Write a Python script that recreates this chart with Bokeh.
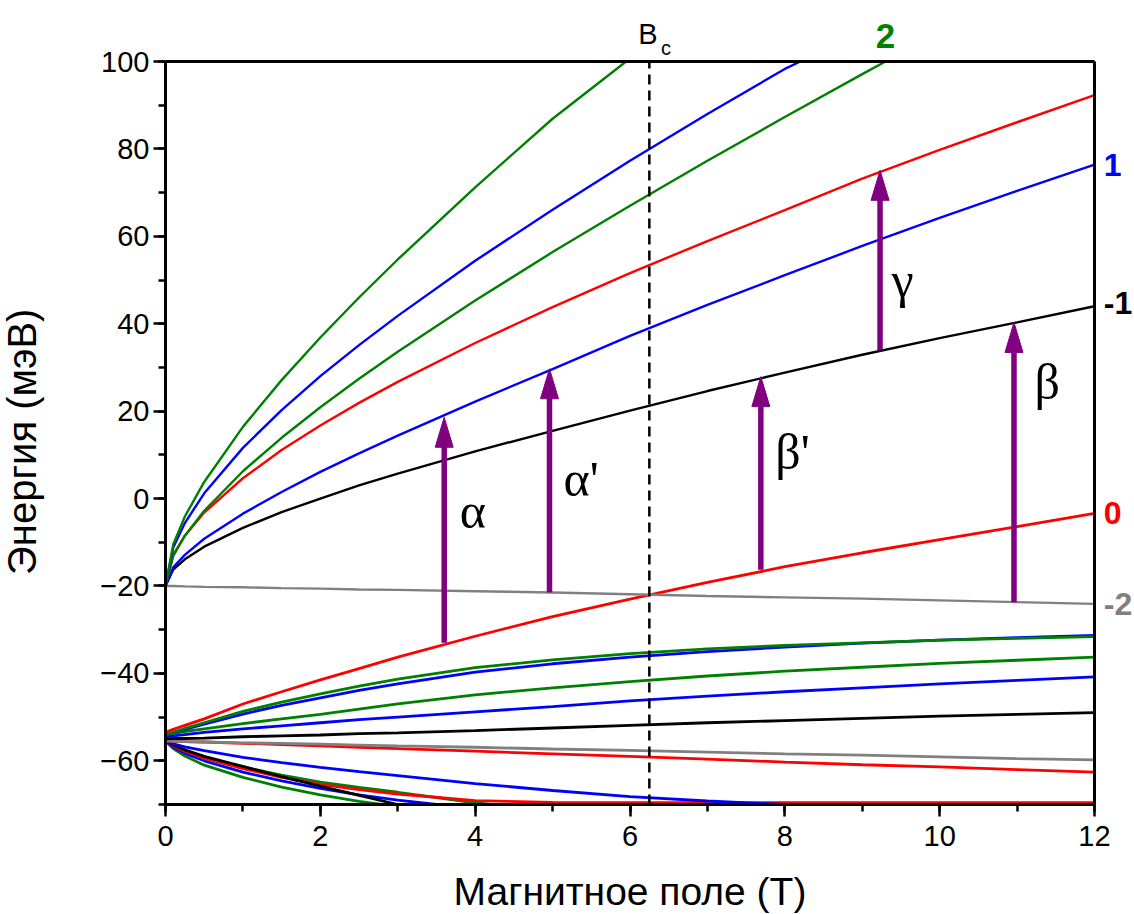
import numpy as np
from bokeh.plotting import figure
from bokeh.models import Range1d, SingleIntervalTicker, Label
from bokeh.embed import file_html
from bokeh.resources import INLINE

# Magnetic field grid (T)
B = [0, 0.1, 0.25, 0.5, 1, 1.5, 2, 2.5, 3, 4, 5, 6, 7, 8, 9, 10, 11, 12]
# fields of the curves that leave the box (last point: where they cross 100 or -70 meV)
B_up_green2 = [0, 0.1, 0.25, 0.5, 1, 1.5, 2, 2.5, 3, 4, 5, 6, 7, 8, 9, 9.3]
B_up_blue2 = [0, 0.1, 0.25, 0.5, 1, 1.5, 2, 2.5, 3, 4, 5, 6, 7, 8, 8.2]
B_up_green3 = [0, 0.1, 0.25, 0.5, 1, 1.5, 2, 2.5, 3, 4, 5, 5.95]
B_lo_green3 = [0, 0.1, 0.25, 0.5, 1, 1.5, 2, 2.5, 3, 4, 4.2]
B_lo_blue4 = [0, 0.1, 0.25, 0.5, 1, 1.5, 2, 2.5, 3, 3.5]
B_lo_green4 = [0, 0.1, 0.25, 0.5, 1, 1.5, 2, 2.5, 2.8]

# Levels fanning out of the -20 meV point
up_gray = [-20, -20.0, -20.1, -20.2, -20.3, -20.5, -20.6, -20.8, -20.9, -21.2, -21.5, -21.9, -22.3, -22.6, -22.9, -23.3, -23.7, -24.1]
up_black = [-20, -16.25, -13.9, -11.0, -6.7, -3.1, 0.0, 3.0, 5.7, 10.8, 15.5, 20.1, 24.6, 28.8, 32.9, 36.7, 40.3, 44.0]
up_blue = [-20, -15.75, -12.9, -9.2, -3.45, 1.5, 6.1, 10.35, 14.4, 22.2, 29.6, 37.2, 44.3, 51.1, 57.8, 64.2, 70.4, 76.4]
up_red = [-20, -12.9, -8.5, -3.2, 4.65, 11.1, 16.7, 21.9, 26.7, 35.6, 43.8, 51.6, 58.9, 66.0, 73.2, 79.8, 86.1, 92.3]
up_green2 = [-20, -13.1, -8.5, -2.8, 6.25, 13.9, 20.9, 27.4, 33.6, 45.3, 56.4, 67.0, 77.3, 87.3, 97.1, 100.0]
up_blue2 = [-20, -11.2, -5.6, 1.2, 11.6, 20.25, 28.0, 35.1, 41.8, 54.4, 66.1, 77.3, 88.0, 98.3, 100.0]
up_green3 = [-20, -10.5, -4.1, 3.8, 16.4, 27.1, 36.85, 46.0, 54.7, 71.2, 86.9, 100.0]

# Levels fanning out of the -54 meV point
lo_red0 = [-53.5, -52.8, -51.9, -50.4, -47.0, -44.2, -41.5, -38.9, -36.3, -31.5, -27.0, -23.0, -19.2, -15.6, -12.4, -9.4, -6.4, -3.4]
lo_green1 = [-54, -53.5, -52.6, -51.3, -48.7, -46.6, -44.7, -42.9, -41.3, -38.7, -36.9, -35.5, -34.4, -33.6, -33.0, -32.4, -32.0, -31.6]
lo_blue1 = [-54, -53.6, -52.8, -51.6, -49.3, -47.3, -45.6, -43.9, -42.4, -39.7, -37.8, -36.3, -35.0, -34.0, -33.1, -32.4, -31.8, -31.3]
lo_green2 = [-54, -53.7, -53.3, -52.7, -51.5, -50.4, -49.4, -48.2, -47.0, -44.9, -43.3, -41.9, -40.6, -39.5, -38.6, -37.7, -37.0, -36.3]
lo_blue2 = [-54.5, -54.3, -54.0, -53.5, -52.7, -52.0, -51.3, -50.6, -50.0, -48.8, -47.6, -46.3, -45.2, -44.2, -43.3, -42.4, -41.6, -40.8]
lo_black = [-55, -54.9, -54.9, -54.8, -54.5, -54.3, -54.1, -53.8, -53.6, -53.1, -52.5, -51.9, -51.3, -50.8, -50.3, -49.8, -49.4, -49.0]
lo_gray = [-55.5, -55.5, -55.6, -55.7, -55.9, -56.0, -56.2, -56.4, -56.6, -56.9, -57.3, -57.6, -58.0, -58.4, -58.7, -59.1, -59.5, -59.8]
lo_red1 = [-55.5, -55.5, -55.6, -55.7, -56.0, -56.3, -56.6, -56.9, -57.2, -57.8, -58.4, -59.0, -59.6, -60.3, -60.9, -61.4, -62.0, -62.6]
lo_blue3 = [-55.5, -56.1, -56.8, -57.7, -59.2, -60.4, -61.5, -62.5, -63.4, -65.2, -66.8, -68.2, -69.2, -70.0]
lo_black2 = [-55.5, -56.4, -57.5, -59.0, -61.3, -63.6, -65.8, -67.9, -70.0]
lo_red2 = [-55.5, -56.6, -57.8, -59.4, -61.8, -63.8, -65.4, -66.6, -67.6, -69.1, -69.5, -69.6, -69.6, -69.6, -69.6, -69.6, -69.6, -69.6]
lo_green3 = [-55.5, -56.5, -57.6, -59.2, -61.4, -63.3, -64.9, -66.1, -67.2, -69.6, -70.0]
lo_blue4 = [-55.5, -56.9, -58.3, -60.0, -62.6, -64.6, -66.3, -67.8, -69.0, -70.0]
lo_green4 = [-55.5, -57.2, -58.9, -61.0, -63.8, -66.0, -67.8, -69.3, -70.0]

# Optical transitions: field, start energy, end energy
arrow_names = ["α", "α'", "β'", "γ", "β"]
arrow_B = [3.6, 4.96, 7.69, 9.23, 10.96]
arrow_from = [-33.0, -21.5, -16.3, 34.0, -23.7]
arrow_to = [18.6, 29.7, 27.9, 75.1, 40.3]

# Critical field
B_c = 6.25

GREEN = "#008000"
BLUE = "#0000ff"
RED = "#ff0000"
GRAY = "#808080"
BLACK = "#000000"
PURPLE = "#800080"

W, H = 1134, 914
LEFT, RIGHT, TOP, BOTTOM = 165, 40, 61, 110
X0, X1, Y0, Y1 = 0, 12, -70, 100

# The frame fills the whole canvas; the axes are pinned to the data box
# edges, so every title and index can be placed in data units.
px_x = (W - LEFT - RIGHT) / (X1 - X0)
px_y = (H - TOP - BOTTOM) / (Y1 - Y0)
xr = Range1d(X0 - LEFT / px_x, X1 + RIGHT / px_x)
yr = Range1d(Y0 - BOTTOM / px_y, Y1 + TOP / px_y)

p = figure(width=W, height=H, x_range=xr, y_range=yr,
           output_backend="svg", toolbar_location=None, title=None,
           min_border=0, min_border_left=0, min_border_right=0,
           min_border_top=0, min_border_bottom=0)
p.background_fill_color = "white"
p.border_fill_color = "white"
p.grid.visible = False
p.outline_line_color = None

p.xaxis.ticker = SingleIntervalTicker(interval=2, num_minor_ticks=2)
p.yaxis.ticker = SingleIntervalTicker(interval=20, num_minor_ticks=2)
p.xaxis.bounds = (X0, X1)
p.yaxis.bounds = (Y0, Y1)
p.xaxis.fixed_location = Y0
p.yaxis.fixed_location = X0
for ax in (p.xaxis, p.yaxis):
    ax.axis_line_width = 3
    ax.major_tick_line_width = 2.5
    ax.minor_tick_line_width = 2.5
    ax.major_tick_in = 0
    ax.major_tick_out = 12
    ax.minor_tick_in = 0
    ax.minor_tick_out = 7
    ax.major_label_text_font = "Liberation Sans"
    ax.major_label_text_font_size = "29px"
    ax.major_label_text_color = "black"
p.xaxis.major_label_standoff = 9
p.yaxis.major_label_standoff = 4

lower = [
    (B_lo_green4, lo_green4, GREEN), (B_lo_blue4, lo_blue4, BLUE),
    (B_lo_green3, lo_green3, GREEN), (B, lo_red2, RED), (B, lo_black2, BLACK),
    (B, lo_blue3, BLUE), (B, lo_red1, RED), (B, lo_gray, GRAY), (B, lo_black, BLACK),
    (B, lo_blue2, BLUE), (B, lo_green2, GREEN), (B, lo_blue1, BLUE),
    (B, lo_green1, GREEN), (B, lo_red0, RED),
]
for bx, vals, col in lower:
    p.line(bx[:len(vals)], vals, line_color=col, line_width=2.8)

upper = [
    (B, up_gray, GRAY), (B, up_black, BLACK), (B, up_blue, BLUE), (B, up_red, RED),
    (B_up_green2, up_green2, GREEN), (B_up_blue2, up_blue2, BLUE),
    (B_up_green3, up_green3, GREEN),
]
for bx, vals, col in upper:
    p.line(bx[:len(vals)], vals, line_color=col, line_width=2.4)

# critical field marker
p.segment(x0=[B_c], y0=[Y0], x1=[B_c], y1=[Y1], line_color="black",
          line_width=2.5, line_dash="10 6")

# arrows: shaft + triangular head sized in screen pixels
head_len = 30 / px_y
head_half = 9 / px_x
p.segment(x0=arrow_B, y0=arrow_from, x1=arrow_B,
          y1=[t - head_len * 0.8 for t in arrow_to],
          line_color=PURPLE, line_width=5.5)
p.patches(xs=[[b - head_half, b, b + head_half] for b in arrow_B],
          ys=[[t - head_len, t, t - head_len] for t in arrow_to],
          fill_color=PURPLE, line_color=PURPLE, line_width=1)

# top and right sides of the data box
p.segment(x0=[X0, X1], y0=[Y1, Y1], x1=[X1, X1], y1=[Y1, Y0],
          line_color="#000000", line_alpha=1.0, line_width=3)

greek_pos = {"α": (3.97, -2.9), "α'": (5.37, 4.4), "β'": (8.10, 10.6),
             "γ": (9.52, 49.9), "β": (11.39, 26.6)}
for name in arrow_names:
    gx, gy = greek_pos[name]
    p.add_layout(Label(x=gx, y=gy, text=name, text_align="center",
                       text_baseline="alphabetic", text_font="Liberation Serif",
                       text_font_size="50px", text_color="black"))

# level indices at the curve ends
level_tags = [("1", BLUE, up_blue[-1]), ("-1", BLACK, up_black[-1] + 0.8),
              ("0", RED, lo_red0[-1]), ("-2", GRAY, up_gray[-1])]
for txt, col, yv in level_tags:
    p.add_layout(Label(x=12.12, y=yv, text=txt, text_align="left",
                       text_baseline="middle", text_font="Liberation Sans",
                       text_font_style="bold", text_font_size="32px",
                       text_color=col))
p.add_layout(Label(x=9.3, y=105.8, text="2", text_align="center",
                   text_baseline="alphabetic", text_font="Liberation Sans",
                   text_font_style="bold", text_font_size="35px",
                   text_color=GREEN))

# B_c mark
p.add_layout(Label(x=6.23, y=106.2, text="B", text_align="center",
                   text_baseline="alphabetic", text_font="Liberation Sans",
                   text_font_size="29px", text_color="black"))
p.add_layout(Label(x=6.40, y=103.0, text="c", text_align="left",
                   text_baseline="alphabetic", text_font="Liberation Sans",
                   text_font_size="20px", text_color="black"))

# axis titles
p.add_layout(Label(x=(X0 + X1) / 2, y=Y0 - 19.9, text="Магнитное поле (Т)",
                   text_align="center", text_baseline="middle",
                   text_font="Liberation Sans", text_font_size="39px",
                   text_color="black"))
p.add_layout(Label(x=X0 - 1.86, y=13.0, text="Энергия (мэВ)",
                   text_align="center", text_baseline="middle",
                   text_font="Liberation Sans", text_font_size="40px",
                   text_color="black", angle=np.pi / 2))

with open("out.html", "w") as f:
    f.write(file_html(p, INLINE))
